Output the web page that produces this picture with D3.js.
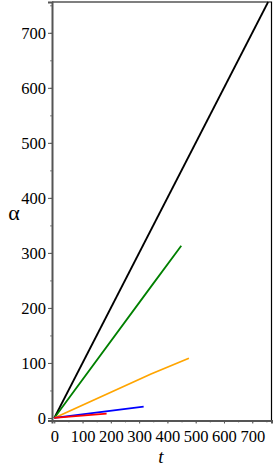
<!DOCTYPE html>
<html>
<head>
<meta charset="utf-8">
<script src="https://cdn.jsdelivr.net/npm/d3@7"></script>
<style>
  body { margin: 0; background: #fff; }
</style>
</head>
<body>
<script>
(function(){

    //series: t values and alpha values
    var seriesNames = ["black", "green", "orange", "blue", "red"];
    var seriesColors = ["#000000", "#008000", "#FFA500", "#0000FF", "#FF0000"];
    var tValues = [
        [0, 756],
        [0, 342, 449],
        [0, 342, 476],
        [0, 316],
        [0, 185]
    ];
    var alphaValues = [
        [0, 756],
        [0, 238.7, 313],
        [0, 80, 108.5],
        [0, 20.5],
        [0, 8]
    ];
    var xTicks = [0, 100, 200, 300, 400, 500, 600, 700];
    var yTicks = [0, 100, 200, 300, 400, 500, 600, 700];

    var serif = "Liberation Serif";

    //frame
    var width = 273, height = 466;
    var svg = d3.select("body").append("svg")
        .attr("width", width)
        .attr("height", height);

    //scales (box from x 52 to 271.5, y 2 to 420.5)
    var xScale = d3.scaleLinear().domain([-8, 768]).range([52, 271.5]);
    var yScale = d3.scaleLinear().domain([-4.6, 756]).range([420.5, 2]);

    //box border (top and right)
    svg.append("path")
        .attr("d", "M" + xScale(-8) + "," + yScale(756) + "H" + xScale(768) + "V" + yScale(-4.6))
        .attr("fill", "none")
        .attr("stroke", "#000")
        .attr("stroke-width", 1.2);

    //minor ticks
    var xMinor = d3.range(0, 768, 50);
    var yMinor = d3.range(0, 756, 50);

    var xAxis = d3.axisBottom(xScale).tickValues(xTicks).tickSize(3).tickPadding(3).tickFormat(d3.format("d"));
    var yAxis = d3.axisLeft(yScale).tickValues(yTicks).tickSize(4).tickPadding(2).tickFormat(d3.format("d"));

    svg.append("g")
        .attr("transform", "translate(0," + yScale(-4.6) + ")")
        .call(d3.axisBottom(xScale).tickValues(xMinor).tickSize(2).tickFormat(""))
        .call(function(g){ g.select(".domain").remove(); g.selectAll("line").attr("stroke", "#888"); });

    svg.append("g")
        .attr("transform", "translate(" + xScale(-8) + ",0)")
        .call(d3.axisLeft(yScale).tickValues(yMinor).tickSize(2).tickFormat(""))
        .call(function(g){ g.select(".domain").remove(); g.selectAll("line").attr("stroke", "#888"); });

    var gx = svg.append("g")
        .attr("transform", "translate(0," + yScale(-4.6) + ")")
        .attr("font-family", serif)
        .attr("font-size", 16.5)
        .call(xAxis);
    gx.attr("font-family", serif).attr("font-size", 16.5);
    gx.select(".domain").attr("stroke", "#555").attr("stroke-width", 2);
    gx.selectAll(".tick line").attr("stroke", "#555");

    var gy = svg.append("g")
        .attr("transform", "translate(" + xScale(-8) + ",0)")
        .call(yAxis);
    gy.attr("font-family", serif).attr("font-size", 16.5);
    gy.select(".domain").attr("stroke", "#555").attr("stroke-width", 2);
    gy.selectAll(".tick line").attr("stroke", "#555");

    //tick label font
    svg.selectAll(".tick text")
        .attr("fill", "#000")
        .attr("font-family", serif)
        .attr("font-size", 16.5);
    gx.selectAll(".tick text").attr("dy", "0.95em");
    gy.selectAll(".tick text").attr("dy", "0.33em");

    //lines
    var line = d3.line()
        .x(function(d){ return xScale(d[0]); })
        .y(function(d){ return yScale(d[1]); });

    seriesNames.forEach(function(name, i){
        var pts = tValues[i].map(function(t, j){ return [t, alphaValues[i][j]]; });
        svg.append("path")
            .datum(pts)
            .attr("class", "series " + name)
            .attr("d", line)
            .attr("fill", "none")
            .attr("stroke", seriesColors[i])
            .attr("stroke-width", 1.8);
    });

    //axis titles
    svg.append("text")
        .attr("x", 161)
        .attr("y", 463)
        .attr("text-anchor", "middle")
        .attr("font-family", serif)
        .attr("font-style", "italic")
        .attr("font-size", 19)
        .text("t");

    svg.append("text")
        .attr("x", 14)
        .attr("y", 220)
        .attr("text-anchor", "middle")
        .attr("font-family", serif)
        .attr("font-size", 22)
        .text("α");

})();
</script>
</body>
</html>
